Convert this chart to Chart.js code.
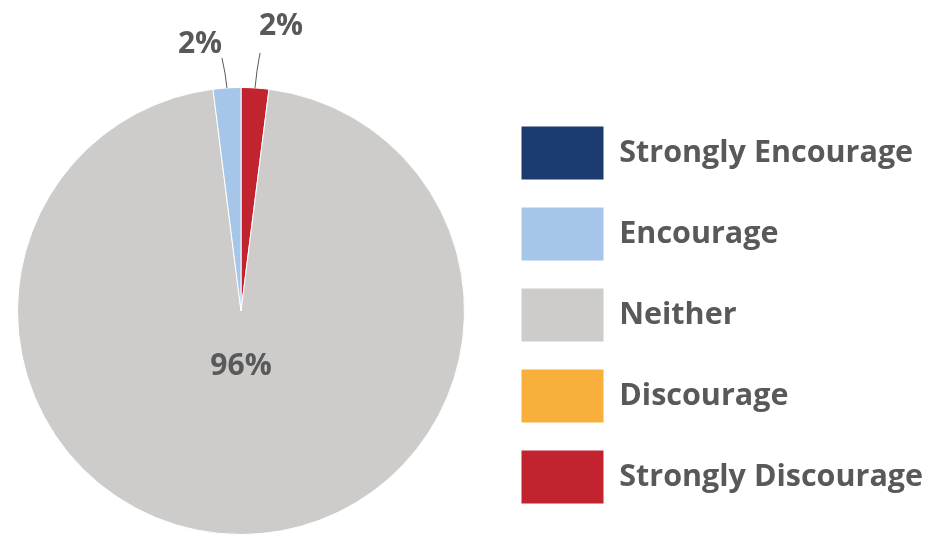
<!DOCTYPE html>
<html lang="en">
<head>
<meta charset="UTF-8">
<title>Encourage / Discourage pie</title>
<script src="https://cdn.jsdelivr.net/npm/chart.js"></script>
<style>
body {
  margin: 0;
  background: #ffffff;
  overflow: hidden;
}
#pieChart {
  display: block;
  margin-left: -15px; /* pie sits a bit further left than chart.js would put it */
}
</style>
</head>
<body>
<canvas id="pieChart" width="956" height="539"></canvas>
<script>
// legend order (top to bottom)
const categories = ['Strongly Encourage', 'Encourage', 'Neither', 'Discourage', 'Strongly Discourage'];
const percentages = [0, 2, 96, 0, 2];
const colors = ['#1B3A6D', '#A5C6E8', '#CDCCCA', '#F9AF3B', '#C1232F'];

const textColor = '#595959';
const fontFamily = "'Open Sans', 'Noto Sans', sans-serif";
const legendFontSize = 30.5;

// excel draws this series backwards (Strongly Discourage first, clockwise from 12 o'clock),
// so feed the pie reversed and flip the legend back
const pieLabels = categories.slice().reverse();
const pieValues = percentages.slice().reverse();
const pieColors = colors.slice().reverse();

// where the small-slice labels sit, relative to the slice edge
const outsideLabelPos = {
  'Encourage': { text: [-27, -43], line: [-5, -30] },
  'Strongly Discourage': { text: [26, -61], line: [5, -35] }
};

const sliceLabels = {
  id: 'sliceLabels',
  afterDatasetsDraw(chart) {
    const ctx = chart.ctx;
    const meta = chart.getDatasetMeta(0);
    ctx.save();
    ctx.font = 'bold 30px ' + fontFamily;
    ctx.fillStyle = textColor;
    ctx.strokeStyle = textColor;
    ctx.lineWidth = 1;
    ctx.textAlign = 'center';
    ctx.textBaseline = 'middle';
    meta.data.forEach((arc, i) => {
      const v = pieValues[i];
      if (!v) return;
      const p = arc.getProps(['x', 'y', 'startAngle', 'endAngle', 'outerRadius'], true);
      const mid = (p.startAngle + p.endAngle) / 2;
      const txt = v + '%';
      const pos = outsideLabelPos[pieLabels[i]];
      if (pos) {
        const ex = p.x + Math.cos(mid) * p.outerRadius;
        const ey = p.y + Math.sin(mid) * p.outerRadius;
        ctx.beginPath();
        ctx.moveTo(ex, ey);
        ctx.quadraticCurveTo(ex + pos.line[0] * 0.3, ey + pos.line[1] * 0.5, ex + pos.line[0], ey + pos.line[1]);
        ctx.stroke();
        ctx.fillText(txt, ex + pos.text[0], ey + pos.text[1]);
      } else {
        const r = p.outerRadius * 0.25;
        ctx.fillText(txt, p.x + Math.cos(mid) * r, p.y + Math.sin(mid) * r);
      }
    });
    ctx.restore();
  }
};

const canvas = document.getElementById('pieChart');

// legend width = padding + box + gap + longest text + 10, pad the right so the
// legend's left edge lands at x=509 on the canvas
const legendLeft = 509;
const mctx = canvas.getContext('2d');
mctx.font = 'bold ' + legendFontSize + 'px ' + fontFamily;
const longest = Math.max(...categories.map(c => mctx.measureText(c).width));
const legendWidth = 27 + 83 + legendFontSize / 2 + longest + 10;
const rightPad = Math.max(0, canvas.width - legendLeft - legendWidth);

new Chart(canvas, {
  type: 'pie',
  data: {
    labels: pieLabels,
    datasets: [{
      data: pieValues,
      backgroundColor: pieColors,
      borderColor: '#ffffff',
      borderWidth: 1,
      hoverOffset: 0
    }]
  },
  options: {
    responsive: false,
    animation: false,
    layout: {
      padding: { top: 87, bottom: 4, left: 3, right: rightPad }
    },
    plugins: {
      tooltip: { enabled: false },
      legend: {
        position: 'right',
        reverse: true,
        // empty title just nudges the items down a few px
        title: { display: true, text: '', padding: 1, font: { size: 5 } },
        labels: {
          boxWidth: 83,
          boxHeight: 54,
          padding: 27,
          color: textColor,
          font: { family: fontFamily, size: legendFontSize, weight: 'bold' }
        }
      }
    }
  },
  plugins: [sliceLabels]
});
</script>
</body>
</html>
